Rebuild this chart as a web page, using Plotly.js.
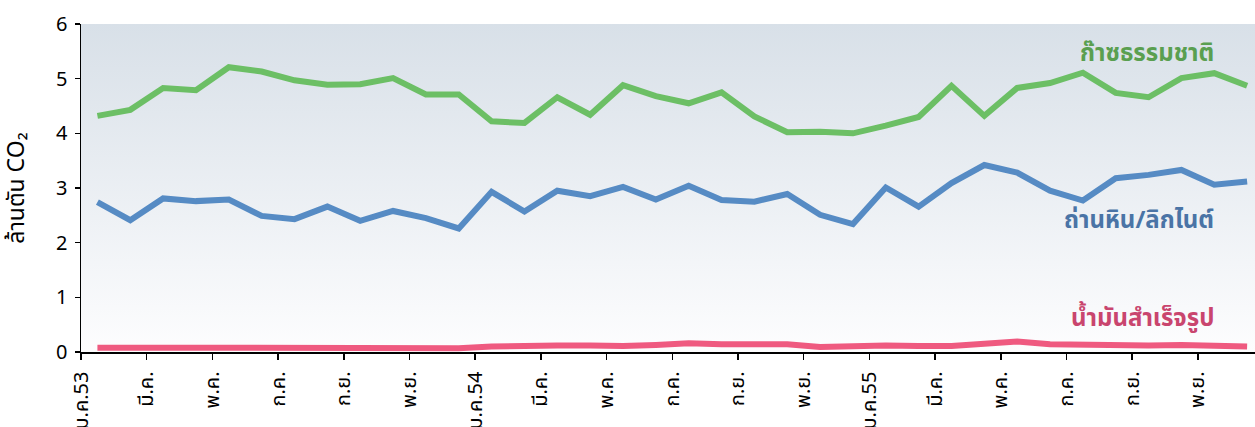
<!DOCTYPE html>
<html>
<head>
<meta charset="utf-8">
<script src="https://cdn.plot.ly/plotly-3.0.1.min.js"></script>
<style>
html,body{margin:0;padding:0;background:#fff;overflow:hidden;}
#chart{width:1255px;height:427px;}
</style>
</head>
<body>
<div id="chart"></div>
<script>
// Months: ม.ค.53 .. ธ.ค.55 (36 months)
const months = ["ม.ค.53","ก.พ.","มี.ค.","เม.ย.","พ.ค.","มิ.ย.","ก.ค.","ส.ค.","ก.ย.","ต.ค.","พ.ย.","ธ.ค.",
                "ม.ค.54","ก.พ.","มี.ค.","เม.ย.","พ.ค.","มิ.ย.","ก.ค.","ส.ค.","ก.ย.","ต.ค.","พ.ย.","ธ.ค.",
                "ม.ค.55","ก.พ.","มี.ค.","เม.ย.","พ.ค.","มิ.ย.","ก.ค.","ส.ค.","ก.ย.","ต.ค.","พ.ย.","ธ.ค."];

// Natural gas (ก๊าซธรรมชาติ), million tonnes CO2
const naturalGas = [4.32,4.43,4.83,4.79,5.21,5.13,4.97,4.89,4.90,5.01,4.71,4.71,
                    4.22,4.19,4.66,4.34,4.88,4.68,4.55,4.75,4.31,4.02,4.03,4.00,
                    4.14,4.30,4.87,4.32,4.83,4.92,5.11,4.74,4.66,5.01,5.10,4.87];

// Coal / lignite (ถ่านหิน/ลิกไนต์)
const coalLignite = [2.74,2.41,2.81,2.76,2.79,2.49,2.43,2.66,2.40,2.58,2.45,2.26,
                     2.93,2.57,2.95,2.85,3.02,2.79,3.04,2.78,2.75,2.89,2.51,2.34,
                     3.01,2.66,3.09,3.42,3.28,2.95,2.77,3.18,3.24,3.33,3.06,3.12];

// Refined oil products (น้ำมันสำเร็จรูป)
const refinedOil = [0.08,0.08,0.09,0.08,0.08,0.08,0.08,0.08,0.07,0.07,0.07,0.07,
                    0.10,0.12,0.12,0.12,0.11,0.13,0.16,0.14,0.14,0.14,0.09,0.11,
                    0.12,0.11,0.11,0.15,0.19,0.14,0.13,0.12,0.12,0.13,0.12,0.10];

const seriesNames = ["ก๊าซธรรมชาติ","ถ่านหิน/ลิกไนต์","น้ำมันสำเร็จรูป"];
const tickLabels = ["ม.ค.53","มี.ค.","พ.ค.","ก.ค.","ก.ย.","พ.ย.",
                    "ม.ค.54","มี.ค.","พ.ค.","ก.ค.","ก.ย.","พ.ย.",
                    "ม.ค.55","มี.ค.","พ.ค.","ก.ค.","ก.ย.","พ.ย."];
const yTitle = "ล้านตัน CO₂";

const idx = months.map((m,i)=>i);
const tickPos = tickLabels.map((t,k)=>2*k-0.5);

const FONT = "'Noto Sans Thai','Noto Sans Thai UI','Loma','Garuda','Tahoma','Noto Sans',sans-serif";

const traces = [
  {x: idx, y: naturalGas, name: seriesNames[0], mode:'lines', line:{color:'#6cbf65', width:6}, hoverinfo:'skip'},
  {x: idx, y: coalLignite, name: seriesNames[1], mode:'lines', line:{color:'#568bc4', width:6}, hoverinfo:'skip'},
  {x: idx, y: refinedOil, name: seriesNames[2], mode:'lines', line:{color:'#ef5a80', width:6}, hoverinfo:'skip'}
];

const svg = "<svg xmlns='http://www.w3.org/2000/svg' width='100' height='100' viewBox='0 0 100 100' preserveAspectRatio='none'>"+
  "<defs><linearGradient id='g' x1='0' y1='0' x2='0' y2='1'>"+
  "<stop offset='0' stop-color='#d8e0e8'/><stop offset='1' stop-color='#fdfdfe'/></linearGradient></defs>"+
  "<rect width='100' height='100' fill='url(#g)'/></svg>";

const layout = {
  width:1255, height:427,
  margin:{l:81, r:0, t:24, b:75},
  paper_bgcolor:'#ffffff',
  plot_bgcolor:'rgba(0,0,0,0)',
  showlegend:false,
  font:{family:FONT, color:'#000'},
  images:[{source:'data:image/svg+xml;charset=utf-8,'+encodeURIComponent(svg),
           xref:'paper', yref:'paper', x:0, y:1, sizex:1, sizey:1,
           xanchor:'left', yanchor:'top', sizing:'stretch', layer:'below'}],
  xaxis:{
    range:[-0.5, 35.24], showgrid:false, zeroline:false,
    showline:true, linecolor:'#000', linewidth:1.5,
    tickmode:'array', tickvals:tickPos, ticktext:tickLabels,
    ticks:'outside', ticklen:6, tickcolor:'#000', tickwidth:1.5,
    ticklabelstandoff:4,
    tickangle:-90, tickfont:{size:20, family:FONT, color:'#000'}
  },
  yaxis:{
    range:[0,6], showgrid:false, zeroline:false,
    showline:true, linecolor:'#000', linewidth:1.5,
    tickmode:'array', tickvals:[0,1,2,3,4,5,6],
    ticks:'outside', ticklen:5, tickcolor:'#000', tickwidth:1.5,
    ticklabelstandoff:3,
    tickfont:{size:20, family:FONT, color:'#000'},
    title:{text:yTitle, font:{size:23, family:FONT, color:'#000'}, standoff:26}
  },
  annotations:[
    {x:34.05, y:5.45, xref:'x', yref:'y', text:'<b>'+seriesNames[0]+'</b>', showarrow:false,
     xanchor:'right', yanchor:'middle', font:{size:24, family:FONT, color:'#5a9f50'}},
    {x:34.05, y:2.4, xref:'x', yref:'y', text:'<b>'+seriesNames[1]+'</b>', showarrow:false,
     xanchor:'right', yanchor:'middle', font:{size:24, family:FONT, color:'#4a74a6'}},
    {x:34.05, y:0.6, xref:'x', yref:'y', text:'<b>'+seriesNames[2]+'</b>', showarrow:false,
     xanchor:'right', yanchor:'middle', font:{size:24, family:FONT, color:'#c9456e'}}
  ]
};

Plotly.newPlot('chart', traces, layout, {displayModeBar:false, staticPlot:true});
</script>
</body>
</html>
